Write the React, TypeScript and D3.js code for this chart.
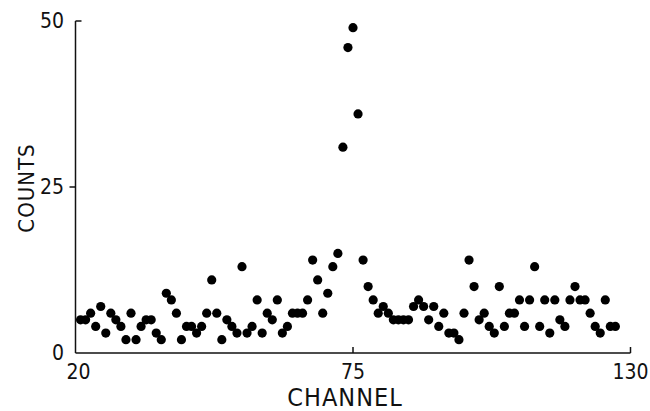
import React from "react";
import * as d3 from "d3";

const startChannel = 21;
const counts: number[] = [
  5, 5, 6, 4, 7, 3, 6, 5, 4, 2,
  6, 2, 4, 5, 5, 3, 2, 9, 8, 6,
  2, 4, 4, 3, 4, 6, 11, 6, 2, 5,
  4, 3, 13, 3, 4, 8, 3, 6, 5, 8,
  3, 4, 6, 6, 6, 8, 14, 11, 6, 9,
  13, 15, 31, 46, 49, 36, 14, 10, 8, 6,
  7, 6, 5, 5, 5, 5, 7, 8, 7, 5,
  7, 4, 6, 3, 3, 2, 6, 14, 10, 5,
  6, 4, 3, 10, 4, 6, 6, 8, 4, 8,
  13, 4, 8, 3, 8, 5, 4, 8, 10, 8,
  8, 6, 4, 3, 8, 4, 4,
];
const channels: number[] = counts.map((_, i) => startChannel + i);
const xTicks: number[] = [20, 75, 130];
const yTicks: number[] = [0, 25, 50];
const xLabel = "CHANNEL";
const yLabel = "COUNTS";

const W = 650;
const H = 411;
const FONT = "'Liberation Sans Narrow', 'DejaVu Sans Condensed', 'Liberation Sans', sans-serif";

export default function App() {
  const x = d3.scaleLinear().domain([20, 130]).range([75.5, 630.5]);
  const y = d3.scaleLinear().domain([0, 50]).range([353, 21]);
  const x0 = x(20);
  const y0 = y(0);
  return (
    <svg
      width={W}
      height={H}
      viewBox={`0 0 ${W} ${H}`}
      style={{ position: "absolute", left: 0, top: 0, background: "#fff" }}
    >
      <rect x={0} y={0} width={W} height={H} fill="#fff" />
      {/* axes */}
      <line x1={x0} y1={y(50)} x2={x0} y2={y0} stroke="#111" strokeWidth={1.5} />
      <line x1={x0} y1={y0} x2={x(130)} y2={y0} stroke="#111" strokeWidth={1.5} />
      {/* y ticks */}
      {yTicks.map((t) => {
        const inward = t === 50;
        return (
          <g key={"yt" + t}>
            {t !== 0 && (
              <line
                x1={x0}
                x2={inward ? x0 + 6 : x0 - 6}
                y1={y(t)}
                y2={y(t)}
                stroke="#111"
                strokeWidth={1.5}
              />
            )}
            <text
              x={64}
              y={y(t)}
              textAnchor="end"
              dominantBaseline="central"
              fontFamily={FONT}
              fontSize={21}
              fill="#111"
            >
              {t}
            </text>
          </g>
        );
      })}
      {/* x ticks */}
      {xTicks.map((t) => (
        <g key={"xt" + t}>
          {t !== 20 && (
            <line x1={x(t)} x2={x(t)} y1={y0} y2={y0 - 6} stroke="#111" strokeWidth={1.5} />
          )}
          <text
            x={x(t) + (t === 20 ? 3 : 0)}
            y={379}
            textAnchor="middle"
            fontFamily={FONT}
            fontSize={21}
            fill="#111"
          >
            {t}
          </text>
        </g>
      ))}
      {/* axis labels */}
      <text
        x={345}
        y={406}
        textAnchor="middle"
        fontFamily={FONT}
        fontSize={25}
        letterSpacing={1}
        fill="#111"
      >
        {xLabel}
      </text>
      <text
        transform={`translate(34, 188) rotate(-90)`}
        textAnchor="middle"
        fontFamily={FONT}
        fontSize={22}
        letterSpacing={1}
        fill="#111"
      >
        {yLabel}
      </text>
      {/* points */}
      {counts.map((c, i) => (
        <circle key={i} cx={x(channels[i])} cy={y(c)} r={4.6} fill="#000" />
      ))}
    </svg>
  );
}
